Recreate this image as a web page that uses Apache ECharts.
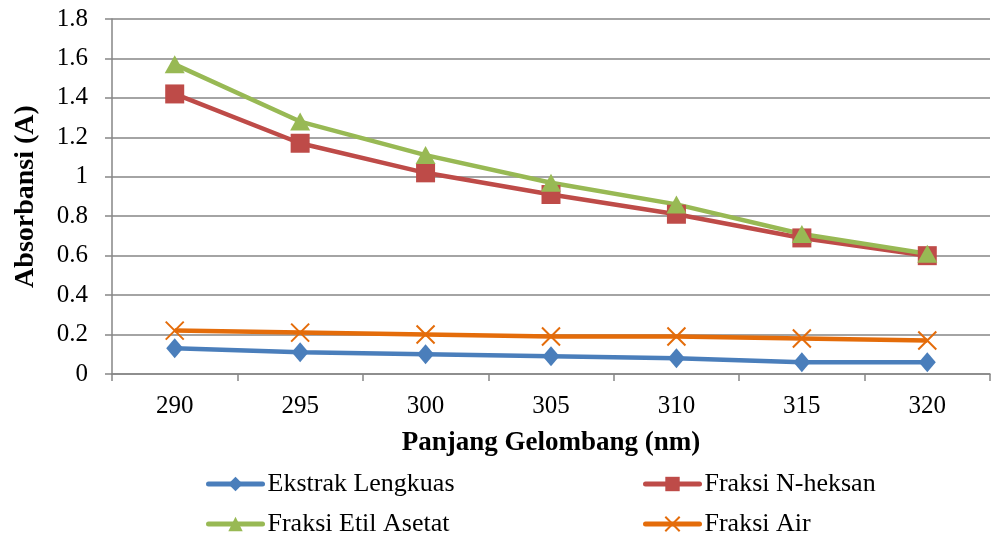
<!DOCTYPE html>
<html>
<head>
<meta charset="utf-8">
<script src="https://cdn.jsdelivr.net/npm/echarts@6/dist/echarts.min.js"></script>
<style>
  html, body { margin: 0; padding: 0; background: #fff; }
  #chart { width: 997px; height: 535px; }
</style>
</head>
<body>
<div id="chart"></div>
<script>
// panjang gelombang (nm)
var wavelengths = ['290', '295', '300', '305', '310', '315', '320'];
var ekstrakLengkuas = [0.13, 0.11, 0.10, 0.09, 0.08, 0.06, 0.06];
var fraksiNHeksan = [1.42, 1.17, 1.02, 0.91, 0.81, 0.69, 0.60];
var fraksiEtilAsetat = [1.57, 1.28, 1.11, 0.97, 0.86, 0.71, 0.61];
var fraksiAir = [0.22, 0.21, 0.20, 0.19, 0.19, 0.18, 0.17];

var font = 'Liberation Serif';
var xSymbol = 'path://M0,0L10,10M10,0L0,10';

// one legend per item so the 2x2 layout is fixed
function legendAt(name, left, top) {
    return {
        left: left, top: top,
        itemWidth: 54, itemHeight: 18,
        lineStyle: { width: 5, cap: 'round' },
        textStyle: { fontFamily: font, fontSize: 26, color: '#000' },
        data: [name]
    };
}

var myChart = echarts.init(document.getElementById('chart'));

var option = {
    animation: false,
    textStyle: { fontFamily: font },
    grid: { left: 112, right: 7, top: 19, bottom: 161 },
    legend: [
        legendAt('Ekstrak Lengkuas', 201, 466),
        legendAt('Fraksi Etil Asetat', 201, 506),
        legendAt('Fraksi N-heksan', 638, 466),
        legendAt('Fraksi Air', 638, 506)
    ],
    xAxis: {
        type: 'category',
        data: wavelengths,
        boundaryGap: true,
        name: 'Panjang Gelombang (nm)',
        nameLocation: 'middle',
        nameGap: 56,
        nameTextStyle: { fontFamily: font, fontSize: 27, fontWeight: 'bold', color: '#000' },
        axisLine: { lineStyle: { color: '#868686', width: 1.5 } },
        axisTick: { show: true, length: 7, lineStyle: { color: '#868686', width: 1.5 } },
        axisLabel: { fontFamily: font, fontSize: 25, color: '#000', margin: 20 }
    },
    yAxis: {
        type: 'value',
        min: 0, max: 1.8, interval: 0.2,
        name: 'Absorbansi (A)',
        nameLocation: 'middle',
        nameGap: 72,
        nameTextStyle: { fontFamily: font, fontSize: 28, fontWeight: 'bold', color: '#000' },
        axisLine: { show: true, lineStyle: { color: '#868686', width: 1.5 } },
        axisTick: { show: true, length: 7, lineStyle: { color: '#868686', width: 1.5 } },
        axisLabel: { fontFamily: font, fontSize: 25, color: '#000', margin: 24 },
        splitLine: { lineStyle: { color: '#868686', width: 1.5 } }
    },
    series: [
        {
            name: 'Ekstrak Lengkuas', type: 'line', data: ekstrakLengkuas,
            symbol: 'diamond', symbolSize: [17, 20],
            itemStyle: { color: '#4a7ebb' },
            lineStyle: { color: '#4a7ebb', width: 4.5 }
        },
        {
            name: 'Fraksi N-heksan', type: 'line', data: fraksiNHeksan,
            symbol: 'rect', symbolSize: 19,
            itemStyle: { color: '#be4b48' },
            lineStyle: { color: '#be4b48', width: 4.5 }
        },
        {
            name: 'Fraksi Etil Asetat', type: 'line', data: fraksiEtilAsetat,
            symbol: 'triangle', symbolSize: [20, 18],
            itemStyle: { color: '#98b954' },
            lineStyle: { color: '#98b954', width: 4.5 }
        },
        {
            name: 'Fraksi Air', type: 'line', data: fraksiAir,
            symbol: xSymbol, symbolSize: 18,
            itemStyle: { color: '#e46c0a', borderColor: '#e46c0a', borderWidth: 2 },
            lineStyle: { color: '#e46c0a', width: 4.5 }
        }
    ]
};

myChart.setOption(option);
</script>
</body>
</html>
